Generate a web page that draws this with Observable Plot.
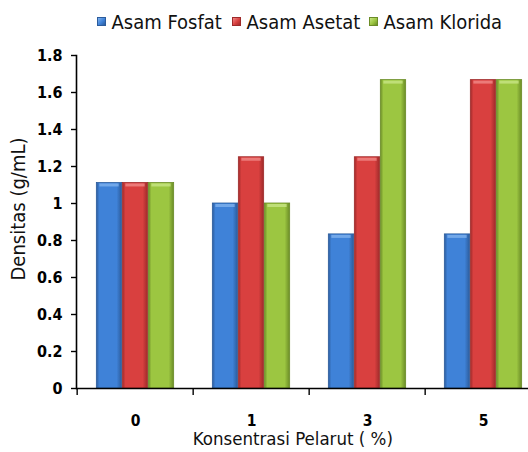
<!DOCTYPE html>
<html>
<head>
<meta charset="utf-8">
<script src="https://cdn.jsdelivr.net/npm/d3@7"></script>
<script src="https://cdn.jsdelivr.net/npm/@observablehq/plot@0.6"></script>
<style>
  html, body { margin: 0; padding: 0; background: #fff; overflow: hidden; }
  #chart { position: relative; width: 528px; height: 452px; }
  #legend { position: relative; height: 40px; font-family: "DejaVu Sans Condensed", "DejaVu Sans", sans-serif; font-size: 20px; color: #111; }
  .item { position: absolute; top: 9.5px; display: flex; align-items: center; white-space: nowrap; }
  .swatch { width: 9px; height: 9px; margin-right: 6px; box-sizing: border-box; }
  svg { display: block; overflow: visible; }
</style>
</head>
<body>
<div id="chart">
  <div id="legend"></div>
</div>
<script>
// Solvent concentration groups (%) and the three acids measured
const concentrations = ["0", "1", "3", "5"];
const acids = ["Asam Fosfat", "Asam Asetat", "Asam Klorida"];

// Density (g/mL) per concentration, one array per acid
const fosfat  = [1.111, 1.000, 0.833, 0.833];
const asetat  = [1.111, 1.250, 1.250, 1.667];
const klorida = [1.111, 1.000, 1.667, 1.667];

const yTicks = [0, 0.2, 0.4, 0.6, 0.8, 1, 1.2, 1.4, 1.6, 1.8];

// Bar colours: edge, face, highlight
const palette = {
  "Asam Fosfat":  {dark: "#2c5c9c", face: "#3f82d8", light: "#7fb2ee", key: "blue"},
  "Asam Asetat":  {dark: "#9e2a2a", face: "#d9403f", light: "#f08a88", key: "red"},
  "Asam Klorida": {dark: "#6b8c27", face: "#9cc641", light: "#c8e585", key: "green"}
};

const values = [fosfat, asetat, klorida];
const rows = acids.flatMap((acid, i) =>
  concentrations.map((c, j) => ({conc: c, acid, value: values[i][j]}))
);

const W = 528, H = 412;
const mLeft = 76, mRight = -14.7;
const band = (W - mRight - mLeft) / concentrations.length;
const barW = 26;
const outer = (band - barW * acids.length) / 2;

// One bar mark per acid, placed side by side inside each concentration band
const barMarks = acids.flatMap((acid, i) => {
  const inL = outer + barW * i;
  const inR = band - outer - barW * (i + 1);
  const sub = rows.filter(d => d.acid === acid);
  const p = palette[acid];
  return [
    Plot.barY(sub, {x: "conc", y: "value", insetLeft: inL, insetRight: inR,
      fill: `url(#grad-${p.key})`, stroke: p.dark, strokeWidth: 0.8}),
    Plot.tickY(sub, {x: "conc", y: "value", insetLeft: inL + 3, insetRight: inR + 3,
      stroke: p.light, strokeWidth: 3, dy: 2, strokeOpacity: 0.8})
  ];
});

const chart = Plot.plot({
  width: W,
  height: H,
  marginLeft: mLeft,
  marginRight: mRight,
  marginTop: 15,
  marginBottom: 64,
  style: {fontFamily: "'DejaVu Sans Condensed', 'DejaVu Sans', sans-serif", fontSize: "16px", color: "#000", background: "transparent"},
  x: {domain: concentrations, padding: 0, label: null},
  y: {domain: [0, 1.8], label: null},
  marks: [
    ...barMarks,
    Plot.ruleY([0], {stroke: "#000", strokeWidth: 1.6}),
    Plot.frame({anchor: "left", stroke: "#000", strokeWidth: 1.6}),
    Plot.axisY({ticks: yTicks, tickFormat: d => `${d}`, tickSize: 5, tickPadding: 9, fontWeight: "bold", fontSize: 16, stroke: "#000", strokeWidth: 1.4}),
    Plot.axisX({tickSize: 0, tickPadding: 26, fontWeight: "bold", fontSize: 15.5}),
    // tick marks between concentration groups
    Plot.ruleX(concentrations, {x: d => d, y1: 0, y2: 0, dx: -band / 2, insetBottom: -7, stroke: "#000", strokeWidth: 1.4}),
    Plot.text(["Konsentrasi Pelarut ( %)"], {frameAnchor: "bottom", dx: -17, dy: 51, fontSize: 18.5, lineAnchor: "middle", fill: "#111"}),
    Plot.text(["Densitas (g/mL)"], {frameAnchor: "left", textAnchor: "middle", dx: -58, dy: -13, rotate: -90, fontSize: 20, lineAnchor: "middle", fill: "#111"})
  ]
});

// Gradients giving the bars their rounded look
const defs = d3.select(chart).insert("defs", ":first-child");
for (const acid of acids) {
  const p = palette[acid];
  const g = defs.append("linearGradient").attr("id", `grad-${p.key}`).attr("x1", 0).attr("x2", 1).attr("y1", 0).attr("y2", 0);
  g.append("stop").attr("offset", "0%").attr("stop-color", p.dark);
  g.append("stop").attr("offset", "12%").attr("stop-color", p.face);
  g.append("stop").attr("offset", "80%").attr("stop-color", p.face);
  g.append("stop").attr("offset", "100%").attr("stop-color", p.dark);
}

document.getElementById("chart").appendChild(chart);

// Legend above the plot
const legendX = [96.5, 231.5, 368.5];
const legend = d3.select("#legend");
acids.forEach((acid, i) => {
  const p = palette[acid];
  const item = legend.append("div").attr("class", "item").style("left", legendX[i] + "px");
  item.append("div").attr("class", "swatch")
    .style("background", `linear-gradient(135deg, ${p.light}, ${p.face} 55%, ${p.dark})`)
    .style("border", `1px solid ${p.dark}`);
  item.append("span").text(acid);
});
</script>
</body>
</html>
